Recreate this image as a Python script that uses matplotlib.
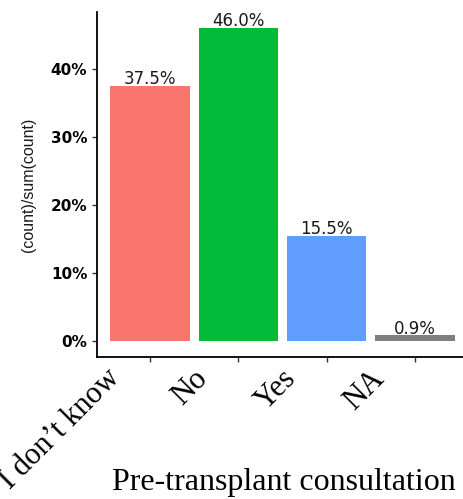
import matplotlib
matplotlib.use("Agg")
import matplotlib.pyplot as plt
from matplotlib.ticker import FuncFormatter
from matplotlib.transforms import ScaledTranslation

categories = ["I don\u2019t know", "No", "Yes", "NA"]
shares = [0.375, 0.460, 0.155, 0.009]
bar_labels = ["37.5%", "46.0%", "15.5%", "0.9%"]
colors = ["#F8766D", "#00BA38", "#619CFF", "#7F7F7F"]
y_ticks = [0.0, 0.1, 0.2, 0.3, 0.4]

fig = plt.figure(figsize=(4.64, 4.99), dpi=100)
ax = fig.add_axes([97/464, 1-357/499, 371/464, 345/499])

x = list(range(len(categories)))
ax.bar(x, shares, width=0.9, color=colors, edgecolor="none")

for xi, v, lab in zip(x, shares, bar_labels):
    ax.annotate(lab, xy=(xi, v), xytext=(0, 1.2), textcoords="offset points",
                ha="center", va="baseline", fontsize=12,
                family="DejaVu Sans", color="#1a1a1a")

ax.set_xlim(-0.6, 3.6)
ax.set_ylim(-0.023, 0.483)
ax.set_yticks(y_ticks)
ax.yaxis.set_major_formatter(FuncFormatter(lambda v, p: f"{v*100:.0f}%"))

for s in ["top", "right"]:
    ax.spines[s].set_visible(False)
for s in ["left", "bottom"]:
    ax.spines[s].set_linewidth(1.3)
    ax.spines[s].set_color("black")

ax.tick_params(axis="y", length=3.5, width=1.0, color="#333333", pad=3.5,
               labelsize=11, labelcolor="black")
for t in ax.get_yticklabels():
    t.set_fontweight("bold")
    t.set_family("DejaVu Sans")

ax.set_xticks(x)
ax.set_xticklabels(categories, rotation=45, ha="right", va="top",
                   rotation_mode="anchor", family="Liberation Serif",
                   fontsize=22, color="black")
ax.tick_params(axis="x", length=3.5, width=1.0, color="#333333", pad=0)
offset = ScaledTranslation(-45/100, -2/100, fig.dpi_scale_trans)
for t in ax.get_xticklabels():
    t.set_transform(t.get_transform() + offset)

ax.set_ylabel("(count)/sum(count)", family="Liberation Sans", fontsize=11.5,
              color="#1a1a1a")
ax.yaxis.set_label_coords(-0.165, 0.5)
ax.set_xlabel("Pre-transplant consultation", family="Liberation Serif",
              fontsize=23, color="black")
ax.xaxis.set_label_coords(0.505, -0.323)

fig.savefig("out.png", dpi=100)
